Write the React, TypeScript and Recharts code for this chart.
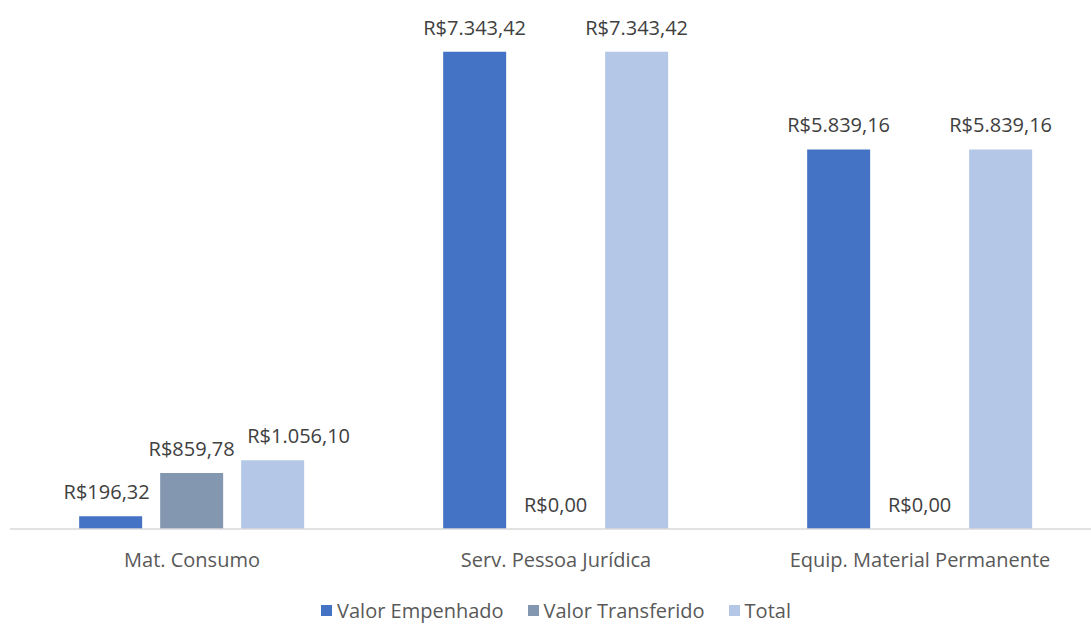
import { BarChart, Bar, XAxis, YAxis, Legend, LabelList, Cell } from "recharts";

const categories = ["Mat. Consumo", "Serv. Pessoa Jurídica", "Equip. Material Permanente"];
const valorEmpenhado = [196.32, 7343.42, 5839.16];
const valorTransferido = [859.78, 0, 0];
const total = [1056.1, 7343.42, 5839.16];

const seriesNames = ["Valor Empenhado", "Valor Transferido", "Total"];
const seriesColors = ["#4472C4", "#8497B0", "#B4C7E7"];

const data = categories.map((name, i) => ({
  name,
  "Valor Empenhado": valorEmpenhado[i],
  "Valor Transferido": valorTransferido[i],
  Total: total[i],
}));

const FONT = "'Open Sans', sans-serif";

// R$ format, pt-BR style
const brl = (v: any) => {
  const n = Number(v);
  const [int, dec] = n.toFixed(2).split(".");
  return "R$" + int.replace(/\B(?=(\d{3})+(?!\d))/g, ".") + "," + dec;
};

// Excel nudged a couple of crowded labels in the first group
const nudge: Record<string, number[]> = {
  "Valor Empenhado": [-4, 0, 0],
  "Valor Transferido": [0, 0, 0],
  Total: [26, 0, 0],
};

const makeLabel = (series: string) => (props: any) => {
  const { x, y, width, height, value, index } = props;
  const top = Math.min(Number(y), Number(y) + Number(height || 0));
  return (
    <text
      x={Number(x) + Number(width) / 2 + (nudge[series][index] || 0)}
      y={top - 17}
      textAnchor="middle"
      fill="#404040"
      fontSize={20}
      fontFamily={FONT}
    >
      {brl(value)}
    </text>
  );
};

const renderLegend = () => (
  <div style={{ display: "flex", justifyContent: "center", fontFamily: FONT, fontSize: 20, color: "#595959" }}>
    {seriesNames.map((s, i) => (
      <span key={s} style={{ display: "inline-flex", alignItems: "center", marginRight: i < 2 ? 24 : 0 }}>
        <span style={{ width: 11, height: 11, background: seriesColors[i], marginRight: 5, display: "inline-block" }} />
        {s}
      </span>
    ))}
  </div>
);

export default function App() {
  return (
    <div style={{ position: "absolute", left: 0, top: 0, background: "#fff", overflow: "hidden" }}>
      <BarChart
        width={1091}
        height={625}
        data={data}
        margin={{ top: 9, right: -11, left: 10, bottom: 0 }}
        barCategoryGap="19%"
        barGap={18}
      >
        <XAxis
          dataKey="name"
          axisLine={{ stroke: "#d9d9d9", strokeWidth: 1.5 }}
          tickLine={false}
          tick={{ fill: "#595959", fontSize: 20, fontFamily: FONT }}
          tickMargin={18}
          height={58}
        />
        <YAxis hide domain={[0, 8000]} />
        <Legend verticalAlign="bottom" height={38} content={renderLegend} wrapperStyle={{ bottom: -10 }} />
        {seriesNames.map((s, i) => (
          <Bar
            key={s}
            dataKey={s}
            fill={seriesColors[i]}
            minPointSize={(v: any) => (Number(v) === 0 ? 0.5 : 0)}
            isAnimationActive={false}
          >
            {data.map((d: any, j) => (
              <Cell key={j} fill={seriesColors[i]} fillOpacity={d[s] === 0 ? 0 : 1} />
            ))}
            <LabelList dataKey={s} content={makeLabel(s)} />
          </Bar>
        ))}
      </BarChart>
    </div>
  );
}
